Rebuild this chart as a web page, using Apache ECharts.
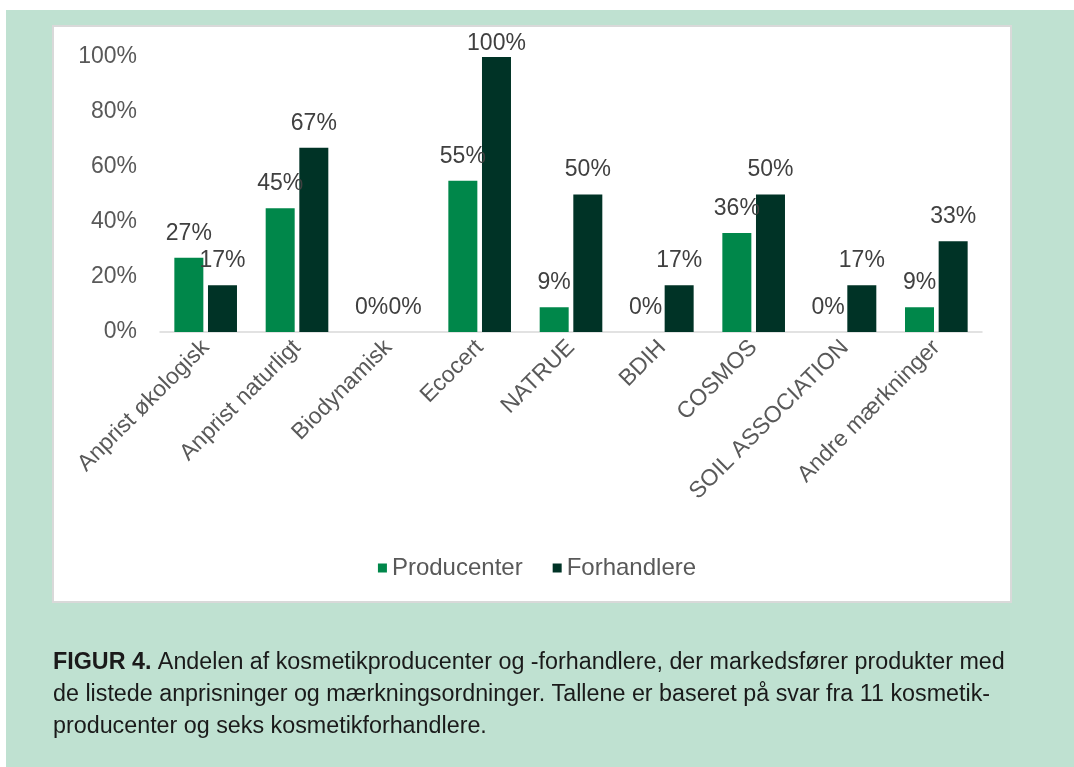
<!DOCTYPE html>
<html>
<head>
<meta charset="utf-8">
<script src="https://cdn.jsdelivr.net/npm/echarts@6/dist/echarts.min.js"></script>
<style>
  html, body { margin: 0; padding: 0; background: #ffffff; }
  #chart { width: 1074px; height: 767px; }
</style>
</head>
<body>
<div id="chart"></div>
<script>
var categories = ['Anprist økologisk', 'Anprist naturligt', 'Biodynamisk', 'Ecocert', 'NATRUE', 'BDIH', 'COSMOS', 'SOIL ASSOCIATION', 'Andre mærkninger']
var producenter = [27, 45, 0, 55, 9, 0, 36, 0, 9]
var forhandlere = [17, 67, 0, 100, 50, 17, 50, 17, 33]
var seriesNames = ['Producenter', 'Forhandlere']
var captionLines = [
  'Andelen af kosmetikproducenter og -forhandlere, der markedsfører produkter med',
  'de listede anprisninger og mærkningsordninger. Tallene er baseret på svar fra 11 kosmetik-',
  'producenter og seks kosmetikforhandlere.'
]

var font = 'Liberation Sans, Arial, sans-serif'
var myChart = echarts.init(document.getElementById('chart'))

var labelStyle = {
  show: true,
  position: 'top',
  distance: 13,
  formatter: '{c}%',
  color: '#404040',
  fontSize: 23,
  fontFamily: font
}

// labels at the very top get pushed down so they stay inside the panel
function withLabels(values) {
  return values.map(function(v) {
    return v >= 100 ? { value: v, label: { distance: 2 } } : v
  })
}

myChart.setOption({
  animation: false,
  textStyle: { fontFamily: font },
  graphic: [
    { type: 'rect', z: -10, shape: { x: 6, y: 10, width: 1068, height: 757 }, style: { fill: '#bfe1d1' } },
    { type: 'rect', z: -9, shape: { x: 53, y: 26, width: 958, height: 576 }, style: { fill: '#ffffff', stroke: '#d9d9d9', lineWidth: 2 } },
    {
      type: 'text', left: 53, top: 647,
      style: {
        text: '{b|FIGUR 4.} ' + captionLines.join('\n'),
        font: '23.3px ' + font,
        fill: '#1a1a1a',
        lineHeight: 32,
        rich: {
          b: { fontWeight: 'bold', fontSize: 23.3, fontFamily: font, fill: '#1a1a1a', lineHeight: 32 }
        }
      }
    }
  ],
  legend: {
    data: seriesNames,
    left: 'center',
    top: 551,
    itemWidth: 9,
    itemHeight: 9,
    itemGap: 30,
    icon: 'rect',
    textStyle: { fontSize: 24, color: '#595959', fontFamily: font }
  },
  grid: { left: 160, right: 92, top: 57, bottom: 435 },
  xAxis: {
    type: 'category',
    data: categories,
    axisLine: { lineStyle: { color: '#d9d9d9', width: 1.5 } },
    axisTick: { show: false },
    axisLabel: { rotate: 45, color: '#595959', fontSize: 23, margin: 12, interval: 0, fontFamily: font }
  },
  yAxis: {
    type: 'value',
    min: 0,
    max: 100,
    interval: 20,
    axisLine: { show: false },
    axisTick: { show: false },
    splitLine: { show: false },
    axisLabel: { formatter: '{value}%', color: '#595959', fontSize: 23, margin: 23, fontFamily: font }
  },
  series: [
    {
      name: seriesNames[0],
      type: 'bar',
      data: withLabels(producenter),
      barWidth: 29,
      barGap: '16%',
      itemStyle: { color: '#00874a' },
      label: labelStyle
    },
    {
      name: seriesNames[1],
      type: 'bar',
      data: withLabels(forhandlere),
      barWidth: 29,
      itemStyle: { color: '#003326' },
      label: labelStyle
    }
  ]
})
</script>
</body>
</html>
